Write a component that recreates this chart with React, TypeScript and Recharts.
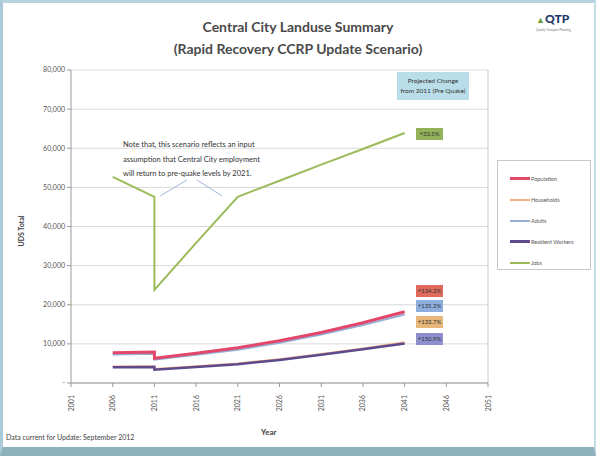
import React from "react";
import { LineChart, Line, XAxis, YAxis, CartesianGrid, ReferenceLine } from "recharts";

// year points (2011 appears twice: pre-quake and post-quake)
const years = [2006, 2011, 2011, 2016, 2021, 2026, 2031, 2036, 2041];
const population = [7700, 7900, 6300, 7600, 9000, 10800, 12900, 15400, 18200];
const households = [4200, 4300, 3600, 4300, 5000, 6100, 7400, 8800, 10400];
const adults = [7300, 7500, 6000, 7200, 8500, 10300, 12400, 14800, 17500];
const workers = [4000, 4100, 3400, 4100, 4800, 5900, 7200, 8600, 10100];
const jobs = [52700, 47600, 23800, 35800, 47600, 51700, 55800, 59800, 63900];

const xTicks = [2001, 2006, 2011, 2016, 2021, 2026, 2031, 2036, 2041, 2046, 2051];
const yTicks = [0, 10000, 20000, 30000, 40000, 50000, 60000, 70000, 80000];

const changeLabels = ["+134.2%", "+135.2%", "+133.7%", "+150.9%"];
const jobsChange = "+33.5%";

const series = [
  { key: "population", name: "Population", color: "#e2476a", width: 3 },
  { key: "households", name: "Households", color: "#f5b08a", width: 2 },
  { key: "adults", name: "Adults", color: "#93afd6", width: 2 },
  { key: "workers", name: "Resident Workers", color: "#5c4a8c", width: 2.5 },
  { key: "jobs", name: "Jobs", color: "#9bbb59", width: 2 },
];

const data = years.map((year, i) => ({
  year,
  population: population[i],
  households: households[i],
  adults: adults[i],
  workers: workers[i],
  jobs: jobs[i],
}));

const XTick = ({ x, y, payload }: any) => (
  <text
    x={0}
    y={0}
    transform={`translate(${x + 2.5},${y + 6}) rotate(-90)`}
    textAnchor="end"
    fontSize={7}
    fill="#555"
  >
    {payload.value}
  </text>
);

const fmtY = (v: number) => (v === 0 ? "-" : v.toLocaleString("en-US"));

const boxStyle = (bg: string, top: number): React.CSSProperties => ({
  position: "absolute",
  left: 413,
  top,
  width: 27,
  height: 12,
  background: bg,
  fontSize: 6,
  lineHeight: "12px",
  textAlign: "center",
  color: "#333",
});

export default function App() {
  return (
    <div
      style={{
        position: "absolute",
        left: 0,
        top: 0,
        width: 596,
        height: 456,
        boxSizing: "border-box",
        background: "#fff",
        borderTop: "3px solid #b6d3de",
        borderLeft: "3px solid #a9cad6",
        borderRight: "2px solid #c5dce4",
        borderBottom: "9px solid #8fb1bd",
        fontFamily: "Lato, 'Open Sans', sans-serif",
        color: "#404040",
        overflow: "hidden",
      }}
    >
      <div style={{ position: "absolute", left: -3, top: 13, width: 596, textAlign: "center", fontSize: 14, fontWeight: 700, lineHeight: "22px", color: "#4a4a4a" }}>
        Central City Landuse Summary
        <br />
        (Rapid Recovery CCRP Update Scenario)
      </div>
      <div style={{ position: "absolute", left: 533, top: 9, fontSize: 12, fontWeight: 900, color: "#1f3a68", lineHeight: "14px" }}>
        <span style={{ color: "#6a9b3a", fontSize: 9 }}>▲</span>QTP
        <div style={{ fontSize: 3, color: "#777", fontWeight: 400, lineHeight: "4px", marginTop: 1 }}>Quality Transport Planning</div>
      </div>

      <div style={{ position: "absolute", left: -3, top: -3 }}>
        <LineChart
          width={596}
          height={456}
          data={data}
          margin={{ top: 70, right: 108, left: 21, bottom: 43 }}
        >
          <CartesianGrid horizontal vertical={false} stroke="#d9d9d9" />
          <XAxis
            dataKey="year"
            type="number"
            domain={[2001, 2051]}
            ticks={xTicks}
            tick={<XTick />}
            stroke="#9a9a9a"
            tickSize={4}
            height={30}
          />
          <YAxis
            type="number"
            domain={[0, 80000]}
            ticks={yTicks}
            tickFormatter={fmtY}
            tick={{ fontSize: 7, fill: "#555" }}
            stroke="#9a9a9a"
            tickSize={4}
            width={50}
          />
          <ReferenceLine x={2051} stroke="#c8c8c8" />
          <ReferenceLine
            segment={[{ x: 2014.9, y: 51900 }, { x: 2011.7, y: 47800 }]}
            stroke="#9fb6d8"
            strokeWidth={1}
          />
          <ReferenceLine
            segment={[{ x: 2016.1, y: 51900 }, { x: 2019.1, y: 47800 }]}
            stroke="#9fb6d8"
            strokeWidth={1}
          />
          <Line dataKey="adults" stroke="#93afd6" strokeWidth={2} dot={false} isAnimationActive={false} />
          <Line dataKey="households" stroke="#f5b08a" strokeWidth={2} dot={false} isAnimationActive={false} />
          <Line dataKey="workers" stroke="#5c4a8c" strokeWidth={2.5} dot={false} isAnimationActive={false} />
          <Line dataKey="population" stroke="#e2476a" strokeWidth={3} dot={false} isAnimationActive={false} />
          <Line dataKey="jobs" stroke="#9bbb59" strokeWidth={2} dot={false} isAnimationActive={false} />
        </LineChart>
      </div>

      <div style={{ position: "absolute", left: 18, top: 228, transform: "translate(-50%,-50%) rotate(-90deg)", fontSize: 7, fontWeight: 700, whiteSpace: "nowrap" }}>
        UDS Total
      </div>
      <div style={{ position: "absolute", left: 258, top: 424, fontSize: 8, fontWeight: 700 }}>Year</div>
      <div style={{ position: "absolute", left: 3, top: 430, fontSize: 7, color: "#444" }}>
        Data current for Update: September 2012
      </div>

      <div style={{ position: "absolute", left: 120, top: 135, fontSize: 7.5, lineHeight: "14.5px", color: "#333", whiteSpace: "nowrap" }}>
        Note that, this scenario reflects an input
        <br />
        assumption that Central City employment
        <br />
        will return to pre-quake levels by 2021.
      </div>

      <div
        style={{
          position: "absolute",
          left: 394,
          top: 69,
          width: 72,
          height: 28,
          background: "#b9dde9",
          fontSize: 6.5,
          lineHeight: "10px",
          textAlign: "center",
          paddingTop: 4,
          boxSizing: "border-box",
          color: "#333",
        }}
      >
        Projected Change
        <br />
        from 2011 (Pre Quake)
      </div>

      <div style={boxStyle("#93b25a", 125)}>{jobsChange}</div>
      <div style={boxStyle("#df6a5c", 282)}>{changeLabels[0]}</div>
      <div style={boxStyle("#8eaee0", 297)}>{changeLabels[1]}</div>
      <div style={boxStyle("#e7b779", 313)}>{changeLabels[2]}</div>
      <div style={boxStyle("#8d8fcf", 330)}>{changeLabels[3]}</div>

      <div
        style={{
          position: "absolute",
          left: 494,
          top: 157,
          width: 94,
          height: 110,
          border: "1px solid #c8c8c8",
          boxSizing: "border-box",
          paddingTop: 7,
        }}
      >
        {series.map((s) => (
          <div key={s.key} style={{ display: "flex", alignItems: "center", height: 21, paddingLeft: 12, fontSize: 5.5, color: "#555" }}>
            <span style={{ display: "inline-block", width: 20, height: s.width, background: s.color, marginRight: 1 }} />
            {s.name}
          </div>
        ))}
      </div>
    </div>
  );
}
